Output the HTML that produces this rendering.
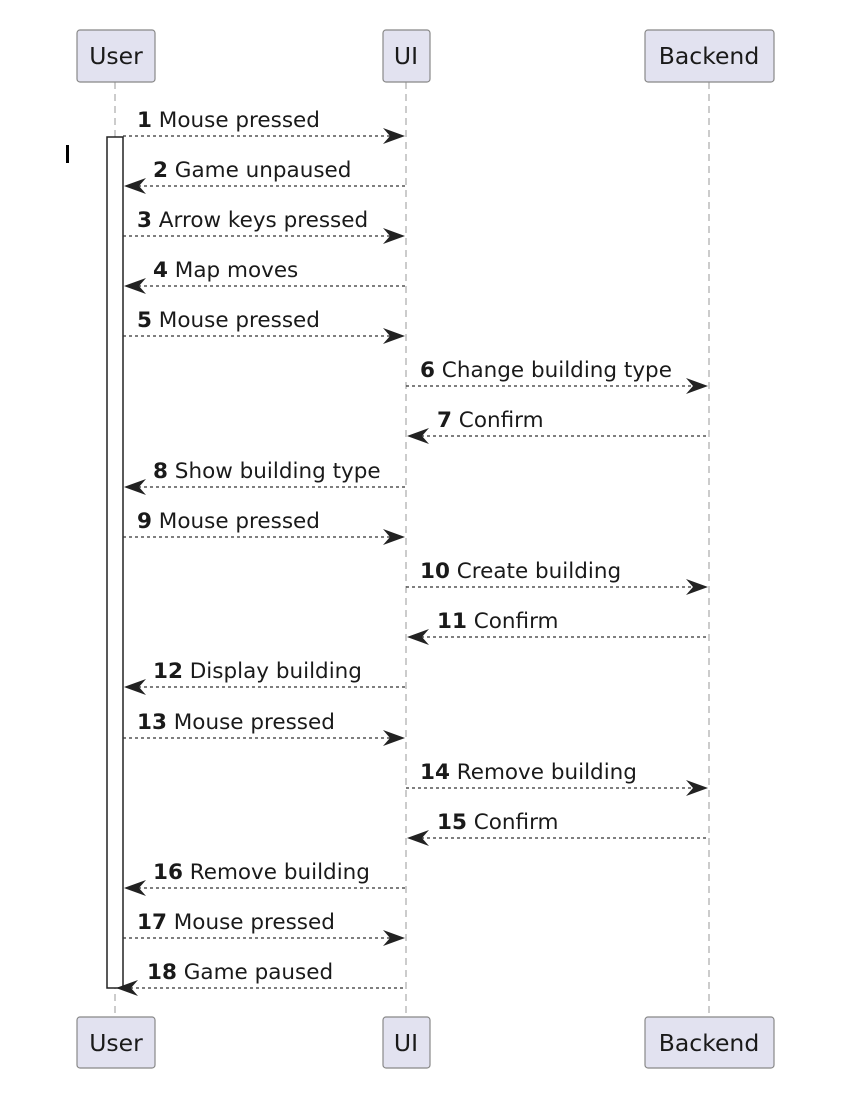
<!DOCTYPE html>
<html><head><meta charset="utf-8"><style>
html,body{margin:0;padding:0;background:#fff;}
svg{display:block;}
text{font-family:"DejaVu Sans","Liberation Sans",sans-serif;font-size:21.5px;fill:#1a1a1a;}
.h{font-size:23.5px;}
</style></head><body>
<svg width="852" height="1108" viewBox="0 0 852 1108" xmlns="http://www.w3.org/2000/svg">
<g stroke="#999" stroke-width="1" stroke-dasharray="7,5">
<line x1="115" y1="82" x2="115" y2="1017"/>
<line x1="406" y1="82" x2="406" y2="1017"/>
<line x1="709" y1="82" x2="709" y2="1017"/>
</g>
<g fill="#e2e2f0" stroke="#888" stroke-width="1.2">
<rect x="77" y="30" width="78" height="52" rx="3"/>
<rect x="383" y="30" width="47" height="52" rx="3"/>
<rect x="645" y="30" width="129" height="52" rx="3"/>
<rect x="77" y="1017" width="78" height="51" rx="3"/>
<rect x="383" y="1017" width="47" height="51" rx="3"/>
<rect x="645" y="1017" width="129" height="51" rx="3"/>
</g>
<text class="h" x="116" y="64" text-anchor="middle">User</text>
<text class="h" x="406" y="64" text-anchor="middle">UI</text>
<text class="h" x="709" y="64" text-anchor="middle">Backend</text>
<text class="h" x="116" y="1051" text-anchor="middle">User</text>
<text class="h" x="406" y="1051" text-anchor="middle">UI</text>
<text class="h" x="709" y="1051" text-anchor="middle">Backend</text>
<rect x="107" y="137" width="16" height="851" fill="#fff" stroke="#222" stroke-width="1.5"/>
<rect x="66" y="145" width="3" height="18" fill="#000"/>
<g stroke="#333" stroke-width="1.3" stroke-dasharray="3,3" fill="none">
<line x1="123" y1="136" x2="403" y2="136"/>
<line x1="126" y1="186" x2="406" y2="186"/>
<line x1="123" y1="236" x2="403" y2="236"/>
<line x1="126" y1="286" x2="406" y2="286"/>
<line x1="123" y1="336" x2="403" y2="336"/>
<line x1="406" y1="386" x2="706" y2="386"/>
<line x1="409" y1="436" x2="709" y2="436"/>
<line x1="126" y1="487" x2="406" y2="487"/>
<line x1="123" y1="537" x2="403" y2="537"/>
<line x1="406" y1="587" x2="706" y2="587"/>
<line x1="409" y1="637" x2="709" y2="637"/>
<line x1="126" y1="687" x2="406" y2="687"/>
<line x1="123" y1="738" x2="403" y2="738"/>
<line x1="406" y1="788" x2="706" y2="788"/>
<line x1="409" y1="838" x2="709" y2="838"/>
<line x1="126" y1="888" x2="406" y2="888"/>
<line x1="123" y1="938" x2="403" y2="938"/>
<line x1="118" y1="988" x2="406" y2="988"/>
</g>
<g fill="#222">
<path d="M405,136 l-22,-8 l7,8 l-7,8z"/>
<path d="M124,186 l22,-8 l-7,8 l7,8z"/>
<path d="M405,236 l-22,-8 l7,8 l-7,8z"/>
<path d="M124,286 l22,-8 l-7,8 l7,8z"/>
<path d="M405,336 l-22,-8 l7,8 l-7,8z"/>
<path d="M708,386 l-22,-8 l7,8 l-7,8z"/>
<path d="M407,436 l22,-8 l-7,8 l7,8z"/>
<path d="M124,487 l22,-8 l-7,8 l7,8z"/>
<path d="M405,537 l-22,-8 l7,8 l-7,8z"/>
<path d="M708,587 l-22,-8 l7,8 l-7,8z"/>
<path d="M407,637 l22,-8 l-7,8 l7,8z"/>
<path d="M124,687 l22,-8 l-7,8 l7,8z"/>
<path d="M405,738 l-22,-8 l7,8 l-7,8z"/>
<path d="M708,788 l-22,-8 l7,8 l-7,8z"/>
<path d="M407,838 l22,-8 l-7,8 l7,8z"/>
<path d="M124,888 l22,-8 l-7,8 l7,8z"/>
<path d="M405,938 l-22,-8 l7,8 l-7,8z"/>
<path d="M116,988 l22,-8 l-7,8 l7,8z"/>
</g>
<text x="137" y="127"><tspan font-weight="bold">1</tspan> Mouse pressed</text>
<text x="153" y="177"><tspan font-weight="bold">2</tspan> Game unpaused</text>
<text x="137" y="227"><tspan font-weight="bold">3</tspan> Arrow keys pressed</text>
<text x="153" y="277"><tspan font-weight="bold">4</tspan> Map moves</text>
<text x="137" y="327"><tspan font-weight="bold">5</tspan> Mouse pressed</text>
<text x="420" y="377"><tspan font-weight="bold">6</tspan> Change building type</text>
<text x="437" y="427"><tspan font-weight="bold">7</tspan> Confirm</text>
<text x="153" y="478"><tspan font-weight="bold">8</tspan> Show building type</text>
<text x="137" y="528"><tspan font-weight="bold">9</tspan> Mouse pressed</text>
<text x="420" y="578"><tspan font-weight="bold">10</tspan> Create building</text>
<text x="437" y="628"><tspan font-weight="bold">11</tspan> Confirm</text>
<text x="153" y="678"><tspan font-weight="bold">12</tspan> Display building</text>
<text x="137" y="729"><tspan font-weight="bold">13</tspan> Mouse pressed</text>
<text x="420" y="779"><tspan font-weight="bold">14</tspan> Remove building</text>
<text x="437" y="829"><tspan font-weight="bold">15</tspan> Confirm</text>
<text x="153" y="879"><tspan font-weight="bold">16</tspan> Remove building</text>
<text x="137" y="929"><tspan font-weight="bold">17</tspan> Mouse pressed</text>
<text x="147" y="979"><tspan font-weight="bold">18</tspan> Game paused</text>
</svg>
</body></html>
